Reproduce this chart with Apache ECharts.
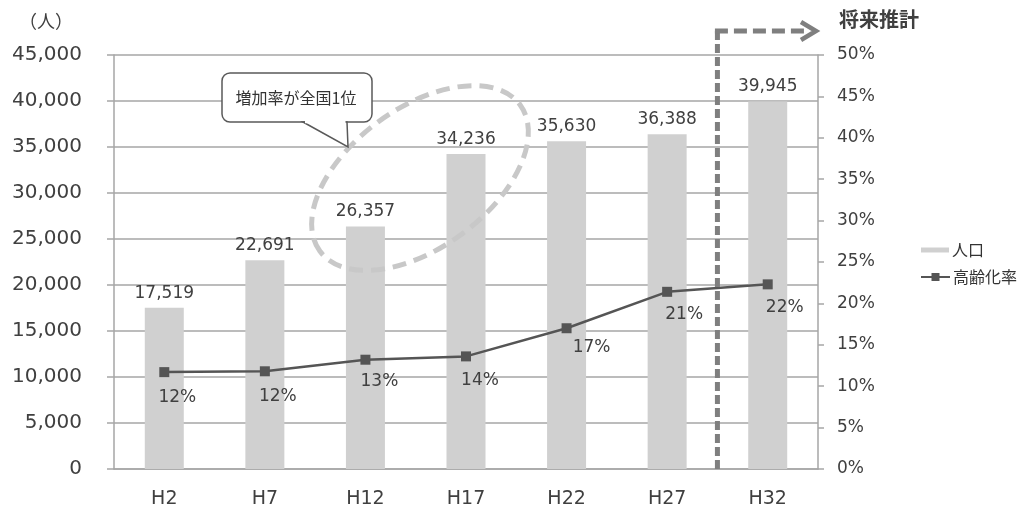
<!DOCTYPE html>
<html><head><meta charset="utf-8">
<script src="https://cdn.jsdelivr.net/npm/echarts@6/dist/echarts.min.js"></script>
<style>html,body{margin:0;padding:0;background:#fff}#c{width:1025px;height:510px}</style>
</head><body><div id="c"></div>
<script>
const categories = ['H2', 'H7', 'H12', 'H17', 'H22', 'H27', 'H32'];
const population = [17519, 22691, 26357, 34236, 35630, 36388, 39945];
const agingRate = [11.7, 11.8, 13.2, 13.6, 17.0, 21.4, 22.3];
const seriesNames = ['人口', '高齢化率'];
const unitLabel = '（人）';
const futureLabel = '将来推計';
const calloutText = '増加率が全国1位';

// label placement (layout only, pixels relative to each point)
const rateLabelShift = [[13, 25], [13, 25], [14, 22], [14, 24], [25, 19], [17, 23], [17, 23]];

const FONT = '"DejaVu Sans", "Noto Sans CJK JP", sans-serif';
const CJK = '"Noto Sans CJK JP", "DejaVu Sans", sans-serif';
const AX = '#a6a6a6';
const TXT = '#404040';

const chart = echarts.init(document.getElementById('c'), null, {renderer: 'canvas'});

const option = {
  animation: false,
  backgroundColor: '#fff',
  grid: {left: 114, right: 207, top: 55, bottom: 41},
  legend: [
    {data: [{name: seriesNames[0], icon: 'rect'}], left: 921, top: 242, orient: 'vertical', padding: 0,
     itemWidth: 28, itemHeight: 5, textStyle: {fontSize: 16, color: '#333', fontFamily: CJK, padding: [0, 0, 0, -2]}},
    {data: [{name: seriesNames[1]}], left: 920, top: 269, orient: 'vertical', padding: 0,
     itemWidth: 29, itemHeight: 10, textStyle: {fontSize: 16, color: '#333', fontFamily: CJK, padding: [0, 0, 0, -2]}}
  ],
  xAxis: {
    type: 'category', data: categories,
    axisLine: {lineStyle: {color: AX, width: 1.5}},
    axisTick: {length: 6, lineStyle: {color: AX, width: 1.5}},
    axisLabel: {color: TXT, fontSize: 19, margin: 21, fontFamily: FONT}
  },
  yAxis: [
    {type: 'value', min: 0, max: 45000, interval: 5000,
     axisLine: {show: true, lineStyle: {color: AX, width: 1.5}},
     axisTick: {show: true, length: 7, lineStyle: {color: AX, width: 1.5}},
     splitLine: {lineStyle: {color: AX, width: 1.5}},
     axisLabel: {margin: 32, fontSize: 20, color: TXT, fontFamily: FONT,
                 formatter: v => v.toLocaleString('en-US')}},
    {type: 'value', min: 0, max: 50, interval: 5, position: 'right',
     axisLine: {show: true, lineStyle: {color: AX, width: 1.5}},
     axisTick: {show: true, length: 6, lineStyle: {color: AX, width: 1.5}},
     splitLine: {show: false},
     axisLabel: {margin: 19, fontSize: 17, color: TXT, fontFamily: FONT, formatter: '{value}%'}}
  ],
  series: [
    {name: seriesNames[0], type: 'bar', data: population, barWidth: 39,
     itemStyle: {color: '#d0d0d0'},
     label: {show: true, position: 'top', distance: 6, fontSize: 17, color: TXT, fontFamily: FONT,
             formatter: p => p.value.toLocaleString('en-US')}},
    {name: seriesNames[1], type: 'line', yAxisIndex: 1,
     data: agingRate.map((v, i) => ({value: v, label: {offset: rateLabelShift[i]}})),
     symbol: 'rect', symbolSize: 10,
     lineStyle: {color: '#555555', width: 2.5},
     itemStyle: {color: '#555555'},
     label: {show: true, position: 'inside', fontSize: 17, color: TXT, fontFamily: FONT,
             formatter: p => Math.round(p.value) + '%'}}
  ]
};
chart.setOption(option);

const xA = chart.convertToPixel({xAxisIndex: 0}, categories[5]);
const xB = chart.convertToPixel({xAxisIndex: 0}, categories[6]);
const xDiv = (xA + xB) / 2;
const yBase = chart.convertToPixel({yAxisIndex: 0}, 0);

chart.setOption({
  graphic: [
    {type: 'text', x: 19, y: 12, style: {text: unitLabel, fill: TXT, font: '18px ' + CJK}},
    {type: 'text', x: 839, y: 9, style: {text: futureLabel, fill: '#404040', font: 'bold 20px ' + CJK}},
    {type: 'ellipse', x: 420, y: 178, rotation: 0.63, z: 50,
     shape: {cx: 0, cy: 0, rx: 124, ry: 70},
     style: {fill: null, stroke: '#c8c8c8', lineWidth: 5, lineDash: [14, 8]}},
    {type: 'rect', z: 60, shape: {x: 222, y: 73, width: 150, height: 49, r: 8},
     style: {fill: '#fff', stroke: '#595959', lineWidth: 1.5}},
    {type: 'polygon', z: 61, shape: {points: [[303, 122], [348, 147], [347, 122]]},
     style: {fill: '#fff', stroke: '#595959', lineWidth: 1.5}},
    {type: 'line', z: 62, shape: {x1: 305, y1: 122, x2: 345.5, y2: 122},
     style: {stroke: '#fff', lineWidth: 2.5}},
    {type: 'text', x: 296, y: 98, z: 63,
     style: {text: calloutText, font: '16px ' + CJK, fill: '#333', align: 'center', verticalAlign: 'middle'}},
    {type: 'polyline', z: 70, shape: {points: [[xDiv, yBase], [xDiv, 31]]},
     style: {stroke: '#7f7f7f', lineWidth: 5, lineDash: [9, 4], fill: null}},
    {type: 'polyline', z: 70, shape: {points: [[xDiv - 2.5, 31], [808, 31]]},
     style: {stroke: '#7f7f7f', lineWidth: 5, lineDash: [13, 6], fill: null}},
    {type: 'polyline', z: 70, shape: {points: [[801, 22], [816, 31], [801, 40]]},
     style: {stroke: '#7f7f7f', lineWidth: 4.5, fill: null}}
  ]
});
</script></body></html>
